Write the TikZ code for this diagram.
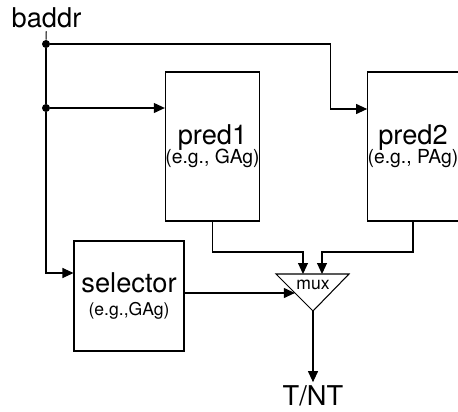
\documentclass[tikz,border=0pt]{standalone}
\usepackage{fontspec}
\setmainfont{TeX Gyre Heros}
\usetikzlibrary{arrows.meta,positioning,calc}
\newcommand{\bigtxt}{\fontsize{15.5}{15.5}\selectfont}
\newcommand{\smalltxt}{\fontsize{11}{11}\selectfont}
\newcommand{\tinytxt}{\fontsize{10}{10}\selectfont}
\tikzset{
  block/.style={rectangle,draw=black,line width=0.6pt,align=center,inner sep=0pt},
  wire/.style={line width=0.6pt,draw=black},
  arr/.style={wire,-{Triangle[length=2.2mm,width=2mm]}},
  junc/.style={circle,fill=black,inner sep=0pt,minimum size=1.6mm},
  label/.style={font=\bigtxt,anchor=base,inner sep=2pt},
}

\begin{document}
\begin{tikzpicture}
\useasboundingbox (0,0) rectangle (9.16,8.22);
% input bus
\node[label] (baddr) at (0.93,7.68) {baddr};
\node[junc] (d1) at (0.92,7.34) {};
\node[junc] (d2) at (0.92,6.06) {};

% predictors and selector
\node[block,minimum width=1.82cm,minimum height=2.98cm] (pred1) at (4.25,5.29) {\bigtxt pred1\\[-1pt]\smalltxt (e.g., GAg)};
\node[block,minimum width=1.76cm,minimum height=2.98cm] (pred2) at (8.26,5.29) {\bigtxt pred2\\[-1pt]\smalltxt (e.g., PAg)};
\node[block,minimum size=2.2cm] (sel) at (2.58,2.30) {\bigtxt selector\\[1.4pt]\tinytxt (e.g.,GAg)};

% mux
\coordinate (muxtl) at (5.52,2.74);
\coordinate (muxtr) at (6.98,2.74);
\coordinate (muxap) at (6.26,2.00);
\draw[wire] (muxtl) -- (muxtr) -- (muxap) -- cycle;
\node[font=\tinytxt] (mux) at (6.26,2.52) {mux};
\coordinate (in1) at (6.06,2.74);
\coordinate (in2) at (6.44,2.74);
\coordinate (in3) at ($(muxtl)!0.51!(muxap)$);
\node[label,inner sep=1.5pt] (tnt) at (6.26,0.12) {T/NT};

% wires
\draw[wire] (baddr) -- (d1);
\draw[arr] (d1) -- (d2) |- ([yshift=0.46cm]sel.west);
\draw[arr] (d2) -- (d2 -| pred1.west);
\draw[arr] (d1) -| ([xshift=-0.74cm,yshift=0.75cm]pred2.west) -- ([yshift=0.75cm]pred2.west);
\draw[arr] (pred1.south) |- ($(in1)+(0,0.44)$) -- (in1);
\draw[arr] (pred2.south) |- ($(in2)+(0,0.44)$) -- (in2);
\draw[arr] ([yshift=0.06cm]sel.east) -- ([yshift=0.06cm]sel.east -| in3);
\draw[arr] (muxap) -- (tnt);
\end{tikzpicture}
\end{document}
